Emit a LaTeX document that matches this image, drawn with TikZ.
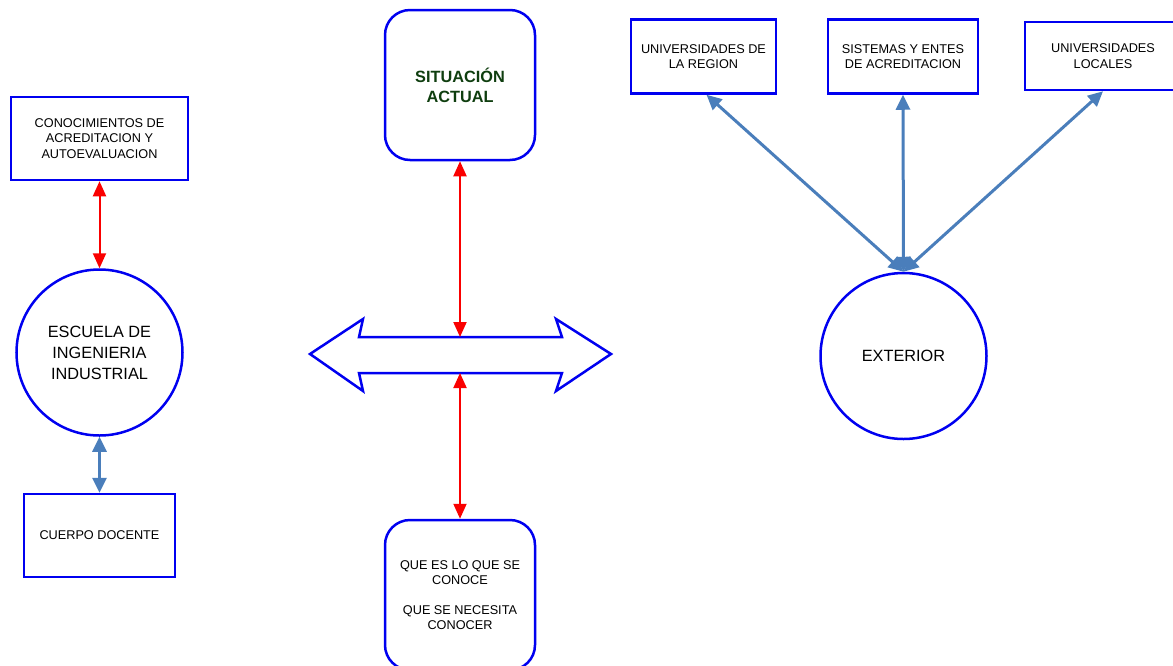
\documentclass[tikz,border=0pt]{standalone}
\usepackage{fontspec}
\setmainfont{Liberation Sans}
\usetikzlibrary{arrows.meta}
\definecolor{edgeblue}{RGB}{0,0,240}
\definecolor{linkblue}{RGB}{74,126,187}
\definecolor{linkred}{RGB}{250,0,0}
\definecolor{titlegreen}{RGB}{15,62,15}
\begin{document}
\begin{tikzpicture}[x=1pt,y=-1pt,
  smalltext/.style={font=\fontsize{12.7}{15.5}\selectfont, align=center, text=black},
  bigtext/.style={font=\fontsize{16.3}{21}\selectfont, align=center, text=black},
  plainbox/.style={draw=edgeblue, line width=2.5pt, fill=white, rectangle, inner sep=0pt, smalltext},
  roundbox/.style={draw=edgeblue, line width=2.5pt, fill=white, rectangle, rounded corners=25pt,
    minimum width=150pt, minimum height=150pt, inner sep=0pt},
  bubble/.style={draw=edgeblue, line width=2.5pt, fill=white, circle, minimum size=166pt, inner sep=0pt, bigtext},
  redlink/.style={draw=linkred, line width=2pt, {Triangle[length=15pt,width=13pt]}-{Triangle[length=15pt,width=13pt]}},
  bluelink/.style={draw=linkblue, line width=3pt, {Triangle[length=15pt,width=14pt]}-{Triangle[length=15pt,width=14pt]}},
]
\useasboundingbox (0,0) rectangle (1173,665);
\clip (0,0) rectangle (1173,665);

% left column
\node[plainbox, minimum width=177pt, minimum height=83pt] (know) at (99.5,138.5)
  {CONOCIMIENTOS DE\\ACREDITACION Y\\AUTOEVALUACION};
\node[bubble] (school) at (99.5,352.5) {ESCUELA DE\\INGENIERIA\\INDUSTRIAL};
\node[plainbox, minimum width=151pt, minimum height=83pt] (staff) at (99.5,535.5) {CUERPO DOCENTE};

% centre column
\node[roundbox, font=\fontsize{16.3}{20}\selectfont\bfseries, text=titlegreen, align=center] (now) at (460,85)
  {SITUACIÓN\\ACTUAL};
\node[roundbox, smalltext] (need) at (460,595)
  {QUE ES LO QUE SE\\CONOCE\\[14pt]QUE SE NECESITA\\CONOCER};

% wide two-headed block arrow
\draw[edgeblue, line width=2.5pt, line join=miter, fill=white]
  (310,354) -- (363,319) -- (359,337) -- (562,337) -- (556,319) -- (611,354)
  -- (556,391) -- (562,373) -- (359,373) -- (363,391) -- cycle;
\coordinate (shafttop) at (460,337);
\coordinate (shaftbot) at (460,373);

% right column
\node[bubble] (outside) at (903.5,356) {EXTERIOR};
\node[plainbox, minimum width=145pt, minimum height=74pt] (unireg) at (703.5,56.5)
  {UNIVERSIDADES DE\\LA REGION};
\node[plainbox, minimum width=150pt, minimum height=74pt] (accred) at (903,56.5)
  {SISTEMAS Y ENTES\\DE ACREDITACION};
\node[plainbox, minimum width=156pt, minimum height=68pt] (unilocal) at (1103,56)
  {UNIVERSIDADES\\LOCALES};

% connectors
\draw[redlink] (know.south) -- (school.north);
\draw[bluelink] (school.south) -- (staff.north);
\draw[redlink] (now.south) -- (shafttop);
\draw[redlink] (shaftbot) -- (need.north);
\draw[bluelink] (outside.north) -- ([xshift=3pt]unireg.south);
\draw[bluelink] (outside.north) -- (accred.south);
\draw[bluelink] (outside.north) -- (unilocal.south);
\end{tikzpicture}
\end{document}
